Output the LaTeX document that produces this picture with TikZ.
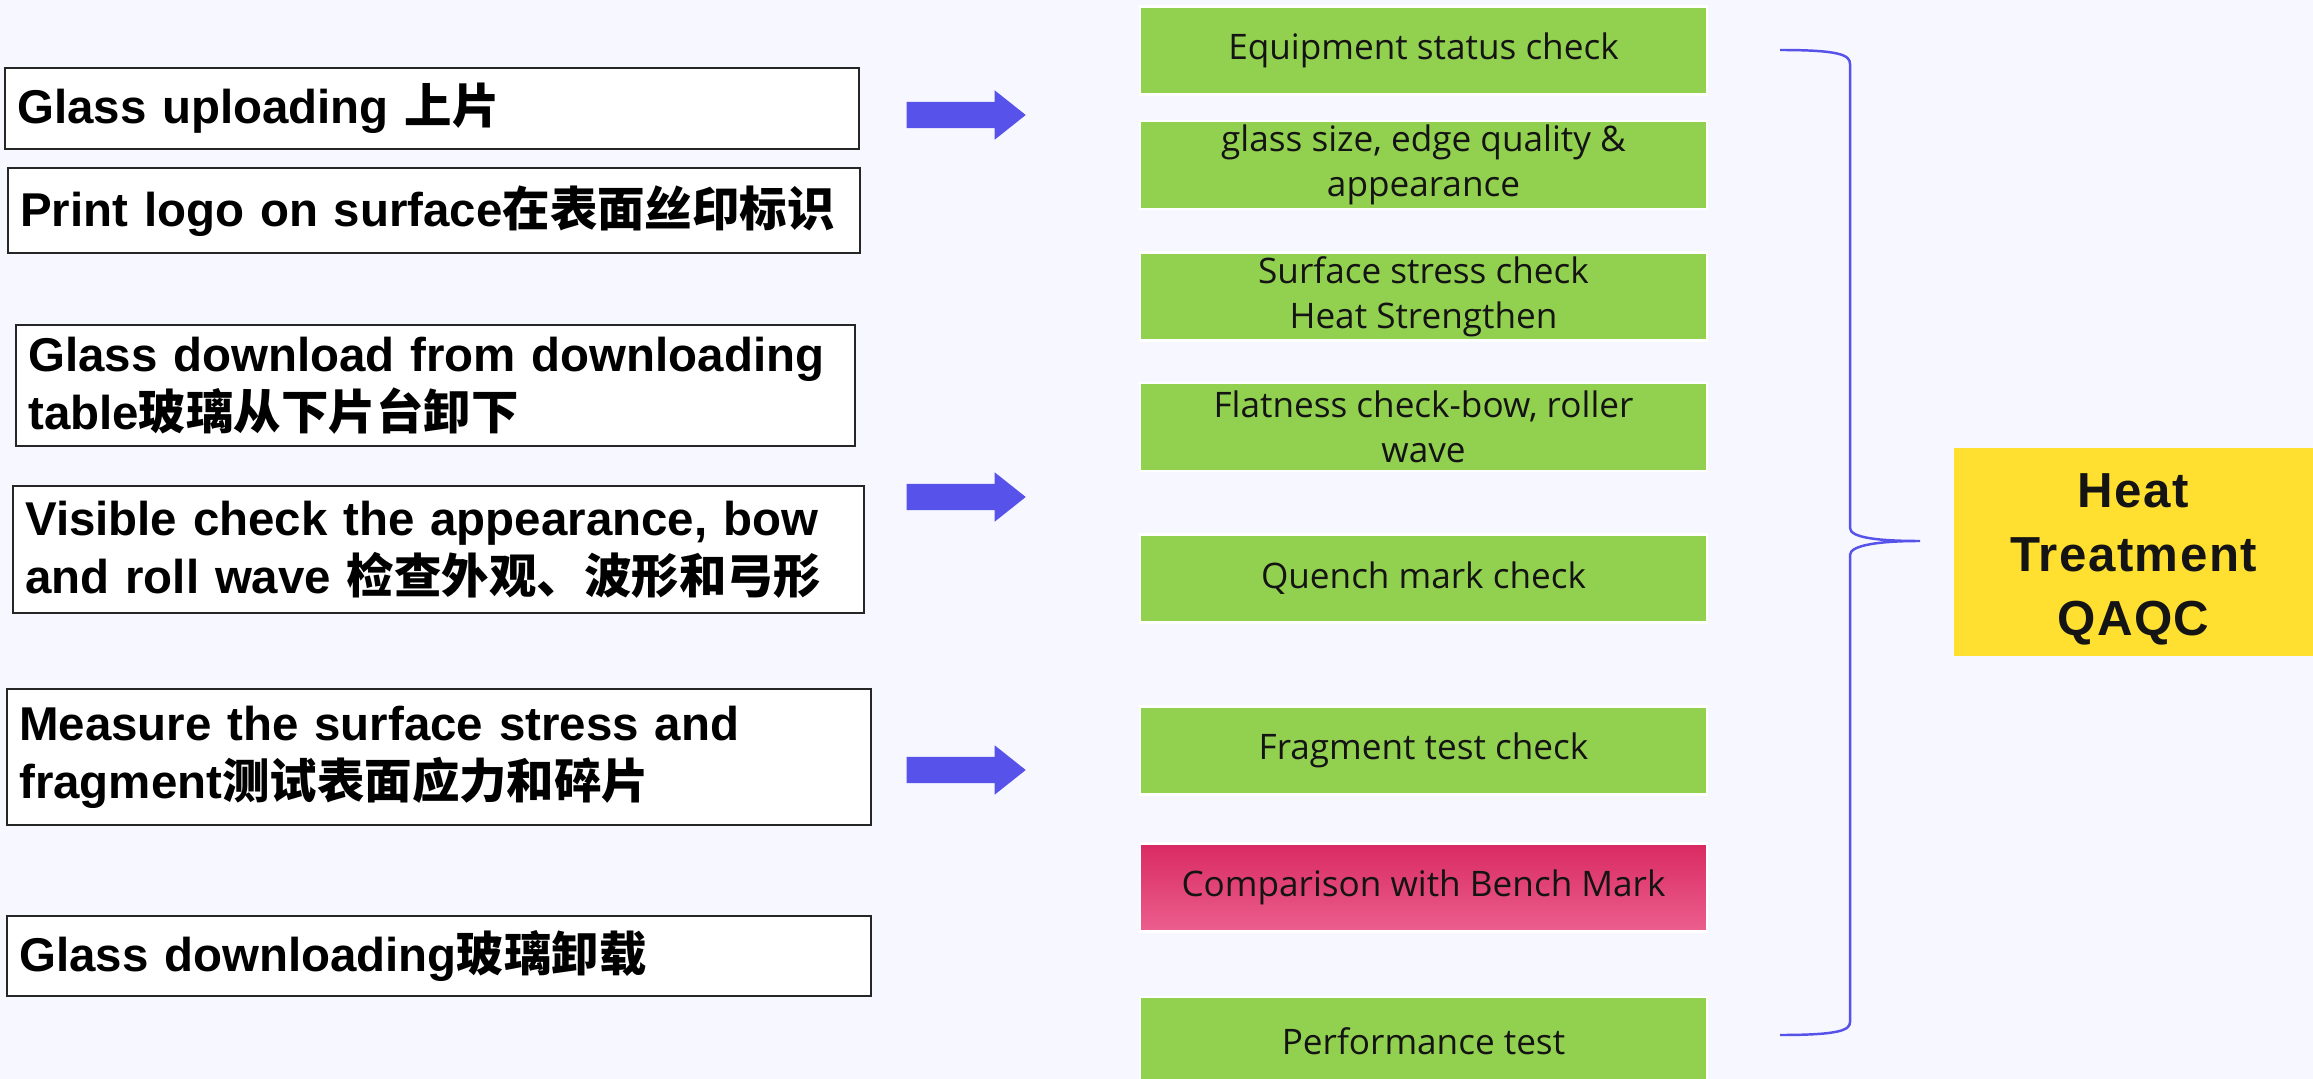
\documentclass[tikz,border=0pt]{standalone}
\usepackage{fontspec}
\setmainfont{Liberation Sans}
\newfontfamily\cjk{Noto Sans CJK SC}
\newfontfamily\checkfont{Open Sans}
\newfontfamily\goalfont[LetterSpace=3]{Liberation Sans}
\usepackage{tikz}
\usetikzlibrary{positioning,shapes.arrows}
\definecolor{PageBg}{RGB}{246,247,255}
\definecolor{CheckGreen}{RGB}{146,208,80}
\definecolor{PinkTop}{RGB}{217,42,98}
\definecolor{PinkBot}{RGB}{235,95,142}
\definecolor{QAYellow}{RGB}{255,224,48}
\definecolor{FlowBlue}{RGB}{86,82,234}
\definecolor{InkGray}{RGB}{20,20,20}
\newcommand{\zh}[1]{{\cjk\bfseries #1}}
\tikzset{
	stepbox/.style={draw=black!85,fill=white,line width=0.7pt,anchor=north west,inner xsep=1.2mm,inner ysep=0pt,
		align=left,font=\fontsize{13.5}{16.6}\selectfont\bfseries},
	checkbox/.style={fill=CheckGreen,draw=white,line width=0.8pt,minimum width=56.7mm,minimum height=8.8mm,
		inner sep=0pt,align=center,text=InkGray,font=\checkfont\fontsize{10}{12.7}\selectfont},
	flow/.style={single arrow,fill=FlowBlue,draw=none,minimum height=11.9mm,inner xsep=0pt,inner ysep=1.25mm,
		single arrow head extend=1.15mm,single arrow head indent=0pt,single arrow tip angle=77,anchor=tail},
	brace/.style={draw=FlowBlue,line width=0.7pt},
	goal/.style={fill=QAYellow,minimum width=35.9mm,minimum height=20.8mm,inner sep=0pt},
	goaltext/.style={align=center,text=InkGray,inner sep=0pt,font=\goalfont\fontsize{14}{18.2}\selectfont\bfseries},
}

\begin{document}
\begin{tikzpicture}[x=0.1mm,y=-0.1mm]
	\path[use as bounding box,fill=PageBg] (0,0) rectangle (2313,1079);
	\clip (0,0) rectangle (2313,1079);
	\node[stepbox,text width=83mm,minimum height=8.1mm] (s1) at (4,67) {Glass uploading \zh{上片}};
	\node[stepbox,text width=82.8mm,minimum height=8.5mm] (s2) at (7,167) {Print logo on surface\zh{在表面丝印标识}};
	\node[stepbox,text width=81.5mm,minimum height=12.1mm] (s3) at (15,324) {Glass download from downloading\\table\zh{玻璃从下片台卸下}};
	\node[stepbox,text width=82.7mm,minimum height=12.7mm] (s4) at (12,485) {Visible check the appearance, bow\\and roll wave \zh{检查外观、波形和弓形}};
	\node[stepbox,text width=84mm,minimum height=13.6mm] (s5) at (6,688) {Measure the surface stress and\\fragment\zh{测试表面应力和碎片}};
	\node[stepbox,text width=84mm,minimum height=8mm] (s6) at (6,915) {Glass downloading\zh{玻璃卸载}};
	\foreach \n/\yy in {a1/115,a2/497,a3/770}
	\node[flow] (\n) at (906,\yy) {};
	\foreach \n/\yy/\txt in {c1/50.5/{Equipment status check},c2/165/{glass size, edge quality \&\\appearance},
		c3/296.5/{Surface stress check\\Heat Strengthen},c4/427/{Flatness check-bow, roller\\wave},
		c5/578.5/{Quench mark check},c6/750.5/{Fragment test check},c8/1041/{Performance test}}
	\node[checkbox] (\n) at (1423.5,\yy) {\txt};
	\node[checkbox,top color=PinkTop,bottom color=PinkBot] (c7) at (1423.5,887.5) {Comparison with Bench Mark};
	\node[goal,label={[goaltext,yshift=-0.7mm]center:{Heat\\Treatment\\QAQC}}] (qa) at (2133.5,552) {};
	\coordinate (bt) at (1780,50);
	\coordinate (bb) at (1780,1035);
	\coordinate (bk) at (1920,541);
	\draw[brace] (bt) .. controls (1840,50) and (1850,55) .. (1850,64) -- (1850,528)
		.. controls (1850,538) and (1880,541) .. (bk)
		.. controls (1880,541) and (1850,545) .. (1850,555) -- (1850,1022)
		.. controls (1850,1030) and (1840,1035) .. (bb);
\end{tikzpicture}
\end{document}
